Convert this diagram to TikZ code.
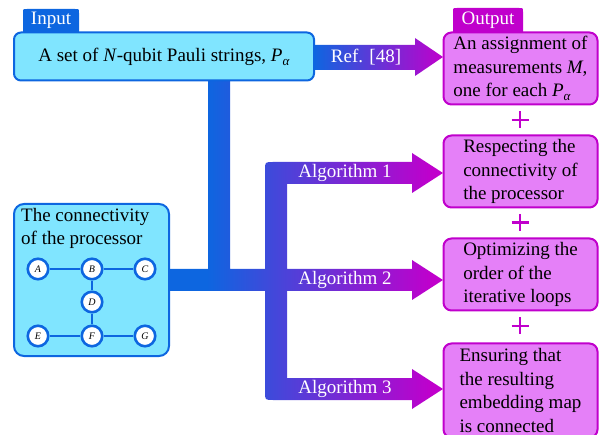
\documentclass[tikz,border=0pt]{standalone}
\usepackage{fontspec}
\setmainfont{Liberation Serif}
\definecolor{cblue}{HTML}{0D66E0}
\definecolor{cmag}{HTML}{C000CC}
\definecolor{cyanfill}{HTML}{80E5FF}
\definecolor{magfill}{HTML}{E580F8}
\pgfdeclarehorizontalshading{bmshade}{100bp}{color(0bp)=(cblue); color(32bp)=(cblue); color(73bp)=(cmag); color(100bp)=(cmag)}
\newcommand{\subalpha}{\raisebox{-4pt}{\fontsize{13}{13}\selectfont\textit{α}}}
\begin{document}
\begin{tikzpicture}[x=1pt,y=-1pt,
  every node/.style={font=\fontsize{19}{23.5}\selectfont},
  tablabel/.style={text=white, inner sep=0pt},
  inbox/.style={draw=cblue, fill=cyanfill, line width=2pt, rounded corners=7pt, inner sep=0pt},
  outbox/.style={draw=cmag, fill=magfill, line width=2pt, rounded corners=8pt, inner sep=0pt, align=left},
  qubit/.style={circle, draw=cblue, fill=white, line width=2.6pt, minimum size=20.5pt, inner sep=0pt, font=\fontsize{10}{10}\selectfont\itshape},
  qlink/.style={cblue, line width=2.6pt},
  armlabel/.style={text=white, inner sep=0pt},
  plussign/.style={cmag, line width=2.5pt}]
\clip (0,0) rectangle (602,435);
% --- shaded connectors (drawn first, boxes on top)
\shade[left color=cblue, right color=cmag]
  (313,45) -- (415,45) -- (415,38) -- (443,57) -- (415,76) -- (415,70) -- (313,70) -- cycle;
\shade[shading=bmshade]
  (208,80) -- (230,80) -- (230,269) -- (265,269) -- (265,170) .. controls (265,162) .. (273,162)
  -- (412,162) -- (412,153) -- (443,173) -- (412,193) -- (412,184) -- (287,184)
  -- (287,269) -- (412,269) -- (412,260) -- (443,280) -- (412,300) -- (412,291) -- (287,291)
  -- (287,378) -- (412,378) -- (412,369) -- (443,389) -- (412,409) -- (412,400)
  -- (273,400) .. controls (265,400) .. (265,392) -- (265,291) -- (168,291) -- (168,269)
  -- (208,269) -- cycle;
% --- tabs
\fill[cblue] (23,34) -- (23,13) .. controls (23,9) .. (27,9) -- (75,9) .. controls (79,9) .. (79,13) -- (79,34) -- cycle;
\node[tablabel] (intab) at (51,20.5) {Input};
\fill[cmag] (453,34) -- (453,12) .. controls (453,8) .. (457,8) -- (519,8) .. controls (523,8) .. (523,12) -- (523,34) -- cycle;
\node[tablabel] (outtab) at (488,20) {Output};
% --- input boxes
\node[inbox, minimum width=300pt, minimum height=48pt] (inbox) at (164,56.5)
  {A set of \textit{N}-qubit Pauli strings, \textit{P}\subalpha};
\node[inbox, rounded corners=10pt, minimum width=155pt, minimum height=152pt] (conn) at (91.5,280) {};
\node[anchor=north west, align=left, inner sep=0pt] (conntitle) at (21,208) {The connectivity\\of the processor};
% --- qubit graph
\node[qubit] (A) at (38,269) {A};
\node[qubit] (B) at (92,269) {B};
\node[qubit] (C) at (145,269) {C};
\node[qubit] (D) at (92,302) {D};
\node[qubit] (E) at (38,336) {E};
\node[qubit] (F) at (92,336) {F};
\node[qubit] (G) at (145,336) {G};
\draw[qlink] (A) -- (B);
\draw[qlink] (B) -- (C);
\draw[qlink] (B) -- (D);
\draw[qlink] (D) -- (F);
\draw[qlink] (E) -- (F);
\draw[qlink] (F) -- (G);
% --- output boxes
\node[outbox, minimum width=154pt, minimum height=72pt] (out1) at (520.5,68.5)
  {An assignment of\\measurements \textit{M},\\one for each \textit{P}\subalpha};
\node[outbox, minimum width=154pt, minimum height=72pt] (out2) at (520.5,171.5)
  {Respecting the\\connectivity of\\the processor};
\node[outbox, minimum width=154pt, minimum height=72pt] (out3) at (520.5,274.5)
  {Optimizing the\\order of the\\iterative loops};
\node[outbox, minimum width=154pt, minimum height=94pt] (out4) at (520.5,390.5)
  {Ensuring that\\the resulting\\embedding map\\is connected};
% --- plus signs
\draw[plussign] (511.5,120) -- (528.5,120) (520,111.5) -- (520,128.5);
\draw[plussign] (511.5,222.5) -- (528.5,222.5) (520,214) -- (520,231);
\draw[plussign] (511.5,326) -- (528.5,326) (520,317.5) -- (520,334.5);
% --- arrow labels
\node[armlabel] (ref) at (366,57) {Ref. [48]};
\node[armlabel] (alg1) at (345,173) {Algorithm 1};
\node[armlabel] (alg2) at (345,280) {Algorithm 2};
\node[armlabel] (alg3) at (345,389) {Algorithm 3};
\end{tikzpicture}
\end{document}
